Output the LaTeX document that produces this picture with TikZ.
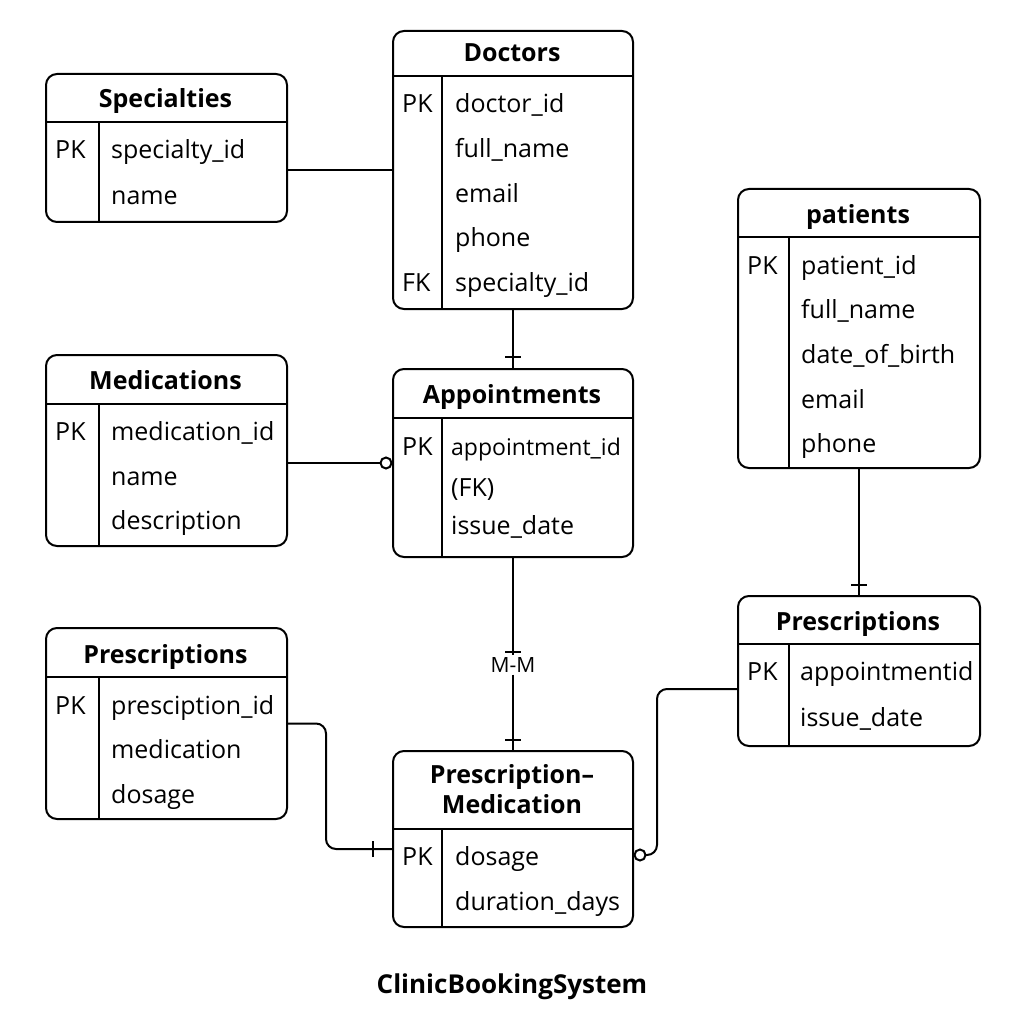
\documentclass[tikz,border=0pt]{standalone}
\usepackage{fontspec}
\setmainfont{Open Sans}
\usepackage{tikz}
\usetikzlibrary{decorations.markings}

\tikzset{
    tbl/.style={draw, line width=2pt, rounded corners=11pt, anchor=north west, inner sep=0pt},
    ttl/.style={font=\fontsize{25}{30}\selectfont\bfseries, anchor=base, inner sep=0pt},
    fld/.style={font=\fontsize{25}{30}\selectfont, anchor=base west, inner sep=0pt},
    rel/.style={line width=2pt},
    onebar/.style={postaction={decorate, decoration={markings, mark=at position #1 with {\draw[line width=2pt] (0,-8pt) -- (0,8pt);}}}},
    zerocirc/.style={postaction={decorate, decoration={markings, mark=at position -6pt with {\draw[line width=2pt, fill=white] (0,0) circle (5.5pt);}}}},
}

% name, left, top, width, height, header height, key column width
\newcommand{\erbox}[7]{%
    \node[tbl, minimum width=#4pt, minimum height=#5pt] (#1) at (#2,#3) {};
    \draw[rel] ([yshift=-#6pt]#1.north west) -- ([yshift=-#6pt]#1.north east);
    \draw[rel] ([shift={(#7pt,-#6pt)}]#1.north west) -- ([xshift=#7pt]#1.south west);
}

\begin{document}
\begin{tikzpicture}[x=1pt, y=-1pt]

    \fill[white] (0,0) rectangle (1024,1024);
    \useasboundingbox (0,0) rectangle (1024,1024);

    \erbox{spec}{45}{73}{241}{148}{49}{54}
    \erbox{doc}{392}{30}{240}{278}{46}{50}
    \erbox{pat}{737}{188}{242}{279}{49}{52}
    \erbox{med}{45}{354}{241}{191}{50}{54}
    \erbox{appt}{392}{368}{240}{188}{50}{50}
    \erbox{prl}{45}{627}{241}{191}{50}{54}
    \erbox{prr}{737}{595}{242}{150}{49}{52}
    \erbox{pm}{392}{750}{240}{176}{79}{50}

    \node[ttl] (spect) at (165.5,108) {Specialties};
    \node[fld] (spec0) at (55,159) {PK};
    \node[fld] (spec1) at (111,159) {specialty\_id};
    \node[fld] (spec2) at (111,205) {name};

    \node[ttl] (doct) at (512,62) {Doctors};
    \node[fld] (doc0) at (402,113) {PK};
    \node[fld] (doc1) at (455,113) {doctor\_id};
    \node[fld] (doc2) at (455,158) {full\_name};
    \node[fld] (doc3) at (455,203) {email};
    \node[fld] (doc4) at (455,247) {phone};
    \node[fld] (doc5) at (402,291) {FK};
    \node[fld] (doc6) at (455,291) {specialty\_id};

    \node[ttl] (patt) at (858,223) {patients};
    \node[fld] (pat0) at (747,274) {PK};
    \node[fld] (pat1) at (801,274) {patient\_id};
    \node[fld] (pat2) at (801,318) {full\_name};
    \node[fld] (pat3) at (801,363) {date\_of\_birth};
    \node[fld] (pat4) at (801,408) {email};
    \node[fld] (pat5) at (801,452) {phone};

    \node[ttl] (medt) at (165.5,389) {Medications};
    \node[fld] (med0) at (55,440) {PK};
    \node[fld] (med1) at (111,440) {medication\_id};
    \node[fld] (med2) at (111,485) {name};
    \node[fld] (med3) at (111,529) {description};

    \node[ttl] (apptt) at (512,403) {Appointments};
    \node[fld] (appt0) at (402,455) {PK};
    \node[fld, font=\fontsize{23}{28}\selectfont] (appt1) at (451,455) {appointment\_id};
    \node[fld] (appt2) at (451,496) {(FK)};
    \node[fld] (appt3) at (451,534) {issue\_date};

    \node[ttl] (prlt) at (165.5,663) {Prescriptions};
    \node[fld] (prl0) at (55,714) {PK};
    \node[fld] (prl1) at (111,714) {presciption\_id};
    \node[fld] (prl2) at (111,758) {medication};
    \node[fld] (prl3) at (111,803) {dosage};

    \node[ttl] (prrt) at (858,630) {Prescriptions};
    \node[fld] (prr0) at (747,680) {PK};
    \node[fld] (prr1) at (800,680) {appointmentid};
    \node[fld] (prr2) at (800,726) {issue\_date};

    \node[ttl] (pmt1) at (512,783) {Prescription–};
    \node[ttl] (pmt2) at (512,813) {Medication};
    \node[fld] (pm0) at (402,865) {PK};
    \node[fld] (pm1) at (455,865) {dosage};
    \node[fld] (pm2) at (455,910) {duration\_days};

    \node[font=\fontsize{21}{24}\selectfont, inner sep=2pt] (mm) at (appt.south |- 0,665) {M-M};

    \draw[rel] (spec.east |- doc.west) -- (doc.west);
    \draw[rel, onebar=-11pt] (doc.south) -- (appt.north);
    \draw[rel, zerocirc] (med.east |- appt.west) -- (appt.west);
    \draw[rel, onebar=-3pt] (appt.south) -- (mm.north);
    \draw[rel, onebar=-10pt] (mm.south) -- (pm.north);
    \draw[rel, onebar=-10pt] (pat.south) -- (prr.north);
    \draw[rel, rounded corners=10pt, onebar=-19pt] (prl.east) -- ++(38,0) |- ([yshift=-10pt]pm.west);
    \draw[rel, rounded corners=10pt, zerocirc] ([yshift=-18pt]prr.west) -- ++(-80,0) |- ([yshift=-16pt]pm.east);

    \node[ttl, font=\fontsize{26}{30}\selectfont\bfseries] (title) at (512,993) {ClinicBookingSystem};

\end{tikzpicture}
\end{document}
